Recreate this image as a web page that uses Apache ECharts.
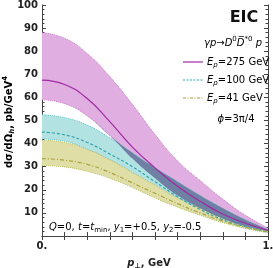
<!DOCTYPE html>
<html><head><meta charset="utf-8">
<script src="https://cdn.jsdelivr.net/npm/echarts@6/dist/echarts.min.js"></script>
<style>html,body{margin:0;padding:0;background:#fff}#c{width:273px;height:268px}</style>
</head><body><div id="c"></div>
<script>
const pT = ['0', '0.1', '0.2', '0.3', '0.4', '0.5', '0.6', '0.7', '0.8', '0.9', '1'];
const purpleC = [67.5, 65.6, 59.5, 49.5, 38.5, 29.5, 21.5, 15, 9.5, 5.5, 2.5];
const purpleU = [88, 85.6, 79, 69, 57, 44, 32.5, 24, 16, 9, 3.5];
const purpleL = [59, 57.3, 52, 43.5, 33.5, 25, 17.5, 12, 7.5, 4.2, 2];
const cyanC = [45, 43.8, 40.5, 35.5, 30, 23.5, 17, 11.5, 7, 4, 1.8];
const cyanU = [52.5, 51.2, 48, 42.5, 36, 29.5, 23.5, 17.5, 12, 7, 2.8];
const cyanL = [42, 41, 37.5, 33, 27.5, 21.5, 15.5, 10.5, 6.3, 3.5, 1.5];
const greenC = [33.5, 32.8, 31, 27.5, 23, 18.5, 14, 10, 6.5, 3.8, 1.8];
const greenU = [41.5, 40.5, 37.5, 33, 27.5, 22, 16.5, 12, 8, 4.8, 2.3];
const greenL = [30.5, 29.9, 28, 25, 21, 16.5, 12.5, 9, 5.8, 3.3, 1.5];
const yTicks = [10, 20, 30, 40, 50, 60, 70, 80, 90, 100];
const xTickLabels = {'0': '0.', '1': '1.'};

const FONT = 'DejaVu Sans';
const SM = 0.5;

function band(id, lo, hi, fill, edge, z, hideEdge) {
  const ls = hideEdge ? {width: 0, opacity: 0} : {type: 'dotted', width: 1, color: edge};
  return [
    {type: 'line', id: id + 'lo', stack: id, data: lo.slice(), smooth: SM, symbol: 'none', silent: true, z: z,
     lineStyle: ls},
    {type: 'line', id: id + 'hi', stack: id, data: hi.map((v, i) => v - lo[i]), smooth: SM, symbol: 'none', silent: true, z: z,
     lineStyle: ls, areaStyle: {color: fill, opacity: 1}}
  ];
}
// overlap of the purple and cyan bands
const ovL = purpleL.map((v, i) => Math.max(v, cyanL[i]));
const ovU = purpleU.map((v, i) => Math.max(Math.min(v, cyanU[i]), ovL[i]));

const rich = {
  n: {fontFamily: FONT, fontSize: 10, color: '#222', lineHeight: 14},
  i: {fontFamily: FONT, fontSize: 10, fontStyle: 'italic', color: '#222', lineHeight: 14},
  sub: {fontFamily: FONT, fontSize: 7, color: '#222', lineHeight: 7, verticalAlign: 'bottom'},
  subi: {fontFamily: FONT, fontSize: 7, fontStyle: 'italic', color: '#222', lineHeight: 7, verticalAlign: 'bottom'},
  sup: {fontFamily: FONT, fontSize: 7, color: '#222', lineHeight: 7, verticalAlign: 'top'}
};
const richB = {
  b: {fontFamily: FONT, fontSize: 10, fontWeight: 'bold', color: '#222', lineHeight: 14},
  bi: {fontFamily: FONT, fontSize: 10, fontWeight: 'bold', fontStyle: 'italic', color: '#222', lineHeight: 14},
  bsub: {fontFamily: FONT, fontSize: 7, fontWeight: 'bold', fontStyle: 'italic', color: '#222', lineHeight: 7, verticalAlign: 'bottom'},
  bsup: {fontFamily: FONT, fontSize: 7, fontWeight: 'bold', color: '#222', lineHeight: 7, verticalAlign: 'top'}
};

function txt(x, y, text, align, r) {
  return {type: 'text', x: x, y: y, z: 100, style: {text: text, align: align || 'left', verticalAlign: 'middle', rich: r || rich}};
}
function lg(y, color, dash) {
  return {type: 'line', z: 100, shape: {x1: 183, y1: y, x2: 203, y2: y}, style: {stroke: color, lineWidth: 1.2, lineDash: dash}};
}

const axisCol = '#444';
const chart = echarts.init(document.getElementById('c'), null, {renderer: 'canvas'});
chart.setOption({
  animation: false,
  grid: {left: 42, right: 5, top: 5, bottom: 32, containLabel: false, outerBoundsMode: 'none'},
  xAxis: [
    {type: 'category', data: pT, boundaryGap: false, position: 'bottom',
     name: '{bi|p}{bsub|⊥}{b|, GeV}', nameLocation: 'middle', nameGap: 20,
     nameTextStyle: {rich: richB, padding: [0, 12, 0, 0]},
     axisLine: {show: true, lineStyle: {color: axisCol, width: 1}},
     axisTick: {show: true, inside: true, length: 4, interval: 0, lineStyle: {color: axisCol}},
     axisLabel: {margin: 5, interval: 0, fontFamily: FONT, fontSize: 10, fontWeight: 'bold', color: '#222',
       formatter: v => (xTickLabels[v] || '')},
     splitLine: {show: false}},
    {type: 'category', data: pT, boundaryGap: false, position: 'top',
     axisLine: {show: true, lineStyle: {color: axisCol, width: 1}},
     axisTick: {show: true, inside: true, length: 4, interval: 0, lineStyle: {color: axisCol}},
     axisLabel: {show: false}, splitLine: {show: false}}
  ],
  yAxis: [
    {type: 'value', min: 0, max: 100, interval: 10, position: 'left',
     axisLine: {show: true, lineStyle: {color: axisCol, width: 1}},
     axisTick: {show: true, inside: true, length: 4, lineStyle: {color: axisCol}},
     minorTick: {show: true, splitNumber: 5, length: 2.5, lineStyle: {color: axisCol}},
     axisLabel: {margin: 4, fontFamily: FONT, fontSize: 10, fontWeight: 'bold', color: '#222',
       formatter: v => (yTicks.indexOf(v) >= 0 ? String(v) : '')},
     splitLine: {show: false}},
    {type: 'value', min: 0, max: 100, interval: 10, position: 'right',
     axisLine: {show: true, lineStyle: {color: axisCol, width: 1}},
     axisTick: {show: true, inside: true, length: 4, lineStyle: {color: axisCol}},
     minorTick: {show: true, splitNumber: 5, length: 2.5, lineStyle: {color: axisCol}},
     axisLabel: {show: false}, splitLine: {show: false}}
  ],
  series: [].concat(
    band('pb', purpleL, purpleU, '#e0aee0', '#c77fc9', 1),
    band('cb', cyanL, cyanU, '#b3e2e2', '#5fbfc2', 2),
    band('gb', greenL, greenU, '#dedea6', '#bcbc63', 3),
    band('ov', ovL, ovU, '#7080a4', '#7080a4', 4, true),
    [
      {type: 'line', name: 'Ep=275 GeV', data: purpleC, smooth: SM, symbol: 'none', z: 10,
       lineStyle: {color: '#a02aa4', width: 1.2}},
      {type: 'line', name: 'Ep=100 GeV', data: cyanC, smooth: SM, symbol: 'none', z: 10,
       lineStyle: {color: '#2fa5ab', width: 1.2, type: [3, 2]}},
      {type: 'line', name: 'Ep=41 GeV', data: greenC, smooth: SM, symbol: 'none', z: 10,
       lineStyle: {color: '#a8a33a', width: 1.2, type: [4, 2, 1, 2]}}
    ]
  ),
  graphic: [
    {type: 'text', x: 9, y: 122, rotation: Math.PI / 2, z: 100,
     style: {text: '{b|dσ/dΩ}{bsub|h}{b|, pb/GeV}{bsup|4}', align: 'center', verticalAlign: 'middle', rich: richB}},
    {type: 'text', x: 244, y: 18, z: 100, style: {text: 'EIC', align: 'center', verticalAlign: 'middle',
      font: 'bold 16px "DejaVu Sans"', fill: '#111'}},
    txt(262, 43, '{i|γp}{n|→}{i|D}{sup|0}{i|D̅}{sup|*0}{n| }{i|p}', 'right'),
    lg(62, '#a02aa4', null), lg(80, '#2fa5ab', [2, 1.5]), lg(98, '#a8a33a', [3, 1.5, 1, 1.5]),
    txt(207, 62, '{i|E}{subi|p}{n|=275 GeV}'),
    txt(207, 80, '{i|E}{subi|p}{n|=100 GeV}'),
    txt(207, 98, '{i|E}{subi|p}{n|=41 GeV}'),
    txt(236, 119, '{i|ϕ}{n|=3π/4}', 'center'),
    txt(49, 227, '{i|Q}{n|=0, }{i|t}{n|=}{i|t}{sub|min}{n|, }{i|y}{sub|1}{n|=+0.5, }{i|y}{sub|2}{n|=-0.5}')
  ]
});
</script></body></html>
